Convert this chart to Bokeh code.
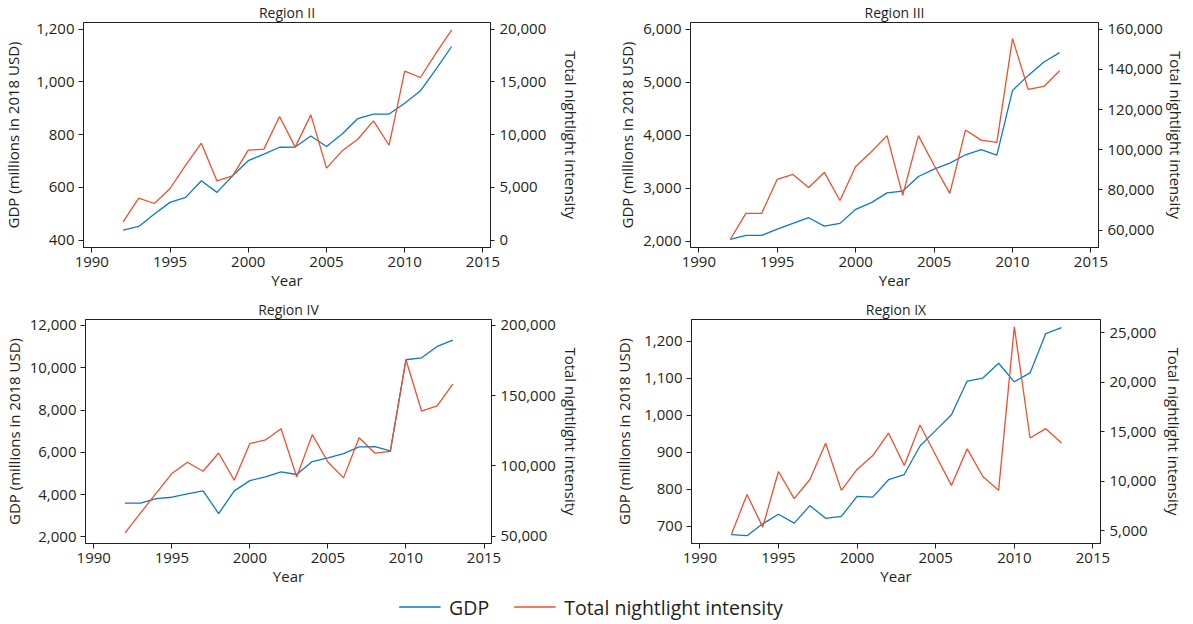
from bokeh.plotting import figure
from bokeh.models import Range1d, LinearAxis, FixedTicker, NumeralTickFormatter, Legend, LegendItem
from bokeh.layouts import column, row
from bokeh.embed import file_html
from bokeh.resources import INLINE

# ---------------- data ----------------
years = list(range(1992, 2014))

gdp_II = [438, 452, 499, 543, 562, 625, 581, 644, 701, 726, 752, 753,
          795, 755, 802, 861, 878, 878, 919, 966, 1048, 1134]
nl_II = [1740, 3980, 3480, 4900, 7110, 9190, 5620, 6100, 8530, 8630, 11720, 8820,
         11880, 6830, 8470, 9570, 11310, 9000, 16020, 15420, 17730, 19940]

gdp_III = [2032, 2107, 2107, 2227, 2335, 2442, 2284, 2335, 2600, 2727, 2910, 2945,
           3220, 3359, 3472, 3630, 3725, 3624, 4844, 5128, 5381, 5558]
nl_III = [55300, 68300, 68300, 85300, 87700, 81200, 88700, 74700, 91700, 99000, 107000, 77300,
          107000, 92300, 78300, 109800, 104800, 103700, 155300, 130000, 131500, 139300]

gdp_IV = [3591, 3591, 3811, 3874, 4031, 4173, 3102, 4173, 4661, 4835, 5071, 4950,
          5559, 5732, 5937, 6252, 6268, 6063, 10378, 10472, 11008, 11307]
nl_IV = [52400, 66600, 80600, 94600, 102600, 96200, 109200, 89800, 115900, 118500, 126500, 92200,
         122300, 102800, 91500, 120100, 109200, 110400, 175600, 139100, 142700, 158300]

gdp_IX = [678, 675, 707, 733, 709, 756, 722, 727, 781, 779, 826, 840,
          917, 959, 1001, 1092, 1100, 1140, 1090, 1114, 1220, 1236]
nl_IX = [4600, 8680, 5380, 11000, 8250, 10190, 13840, 9090, 11200, 12600, 14880, 11600,
         15690, 12640, 9590, 13280, 10490, 9090, 25600, 14380, 15320, 13880]

x_ticks = [1990, 1995, 2000, 2005, 2010, 2015]
left_ticks_II = [400, 600, 800, 1000, 1200]
right_ticks_II = [0, 5000, 10000, 15000, 20000]
left_ticks_III = [2000, 3000, 4000, 5000, 6000]
right_ticks_III = [60000, 80000, 100000, 120000, 140000, 160000]
left_ticks_IV = [2000, 4000, 6000, 8000, 10000, 12000]
right_ticks_IV = [50000, 100000, 150000, 200000]
left_ticks_IX = [700, 800, 900, 1000, 1100, 1200]
right_ticks_IX = [5000, 10000, 15000, 20000, 25000]

BLUE = "#0b7cc0"
RED = "#ef4f2c"
TXT = "#231f20"
FONT = "Open Sans"


def style_axis(ax, label, standoff, lab_standoff, tick_out):
    ax.axis_label = label
    ax.axis_label_standoff = standoff
    ax.axis_label_text_font = FONT
    ax.axis_label_text_font_size = "15px"
    ax.axis_label_text_font_style = "normal"
    ax.axis_label_text_color = TXT
    ax.major_label_text_font = FONT
    ax.major_label_text_font_size = "15px"
    ax.major_label_text_color = TXT
    ax.major_label_standoff = lab_standoff
    ax.axis_line_color = TXT
    ax.major_tick_line_color = TXT
    ax.major_tick_in = 0
    ax.major_tick_out = tick_out
    ax.minor_tick_line_color = None


def panel(title, gdp, nl, lr, rr, lt, rt, fw, fh, bl, br, bt, bb, ls, rs):
    p = figure(frame_width=fw, frame_height=fh, x_range=Range1d(1989.47, 2015.48), y_range=Range1d(*lr),
               output_backend="svg", toolbar_location=None,
               min_border_left=bl, min_border_right=br, min_border_top=bt, min_border_bottom=bb)
    p.extra_y_ranges = {"nl": Range1d(*rr)}
    p.line(years, gdp, color=BLUE, line_width=1.3)
    p.line(years, nl, color=RED, line_width=1.3, y_range_name="nl")
    p.xaxis.ticker = FixedTicker(ticks=x_ticks)
    p.yaxis.ticker = FixedTicker(ticks=lt)
    p.yaxis.formatter = NumeralTickFormatter(format="0,0")
    style_axis(p.xaxis[0], "Year", 0, 4, 5)
    style_axis(p.yaxis[0], "GDP (millions in 2018 USD)", ls, 4, 5)
    ax = LinearAxis(y_range_name="nl", ticker=FixedTicker(ticks=rt),
                    formatter=NumeralTickFormatter(format="0,0"))
    style_axis(ax, "Total nightlight intensity", rs, 5, 4)
    p.add_layout(ax, "right")
    p.xgrid.visible = False
    p.ygrid.visible = False
    p.outline_line_color = TXT
    p.outline_line_alpha = 1
    p.title.text = title
    p.title.align = "center"
    p.title.text_font = FONT
    p.title.text_font_size = "14px"
    p.title.text_font_style = "normal"
    p.title.text_color = TXT
    p.title.standoff = 1
    return p


p1 = panel("Region II", gdp_II, nl_II, (372, 1225), (-690, 20630), left_ticks_II, right_ticks_II,
           407, 225, 78, 105, 21, 50, 10, 12)
p2 = panel("Region III", gdp_III, nl_III, (1880, 6126), (51333, 163333), left_ticks_III, right_ticks_III,
           408, 225, 95, 88, 21, 50, 3, 0)
p3 = panel("Region IV", gdp_IV, nl_IV, (1685, 12283), (44787, 204265), left_ticks_IV, right_ticks_IV,
           406, 224, 80, 104, 20, 50, 3, 2)
p4 = panel("Region IX", gdp_IX, nl_IX, (654, 1258), (3727, 26340), left_ticks_IX, right_ticks_IX,
           409, 224, 96, 86, 20, 50, 7, 5)

lf = figure(width=1181, height=27, toolbar_location=None, output_backend="svg", title=None,
            x_range=Range1d(0, 1), y_range=Range1d(0, 1), x_axis_type=None, y_axis_type=None,
            min_border=0)
lf.outline_line_color = None
lf.xgrid.visible = False
lf.ygrid.visible = False
r1 = lf.line([5, 6], [5, 6], color=BLUE, line_width=1.3)
r2 = lf.line([5, 6], [5, 6], color=RED, line_width=1.3)
legend = Legend(items=[LegendItem(label="GDP", renderers=[r1]),
                       LegendItem(label="Total nightlight intensity", renderers=[r2])],
                orientation="horizontal", location="center", glyph_width=42, label_standoff=9,
                spacing=24, padding=0, margin=0, border_line_color=None, background_fill_alpha=0,
                label_text_font=FONT, label_text_font_size="19.5px", label_text_color=TXT)
lf.add_layout(legend)

layout = column(row(p1, p2), row(p3, p4), lf)
open("out.html", "w").write(file_html(layout, INLINE))
